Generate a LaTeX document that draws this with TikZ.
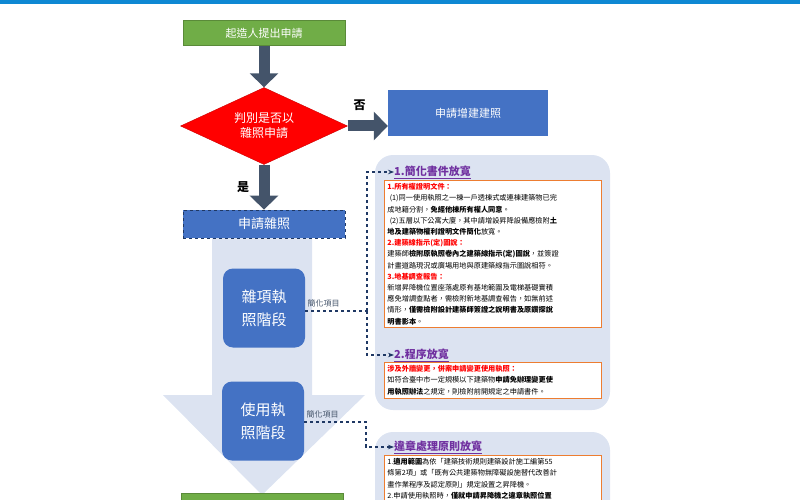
\documentclass[tikz,border=0pt]{standalone}
\usepackage{fontspec}
\setmainfont{Noto Sans CJK TC}
\usepackage{xcolor}
\usetikzlibrary{positioning,shapes.geometric,arrows.meta,shapes.arrows}
\definecolor{flowBlue}{HTML}{4472C4}
\definecolor{panelBlue}{HTML}{DCE3F1}
\definecolor{darkArrow}{HTML}{44546A}
\definecolor{startGreen}{HTML}{70AD47}
\definecolor{noteOrange}{HTML}{ED7D31}
\definecolor{titlePurple}{HTML}{7030A0}
\definecolor{navyDash}{HTML}{1F3864}
\tikzset{%
  stepGreen/.style={rectangle, draw=startGreen!80!black, fill=startGreen, text=white, minimum width=162pt, minimum height=25pt, font=\fontsize{11}{13}\selectfont},
  decision/.style={diamond, fill=red, draw=red!80!black, text=white, minimum width=167pt, minimum height=77pt, aspect=2.2, inner sep=0pt, align=center, font=\fontsize{12}{15}\selectfont},
  blueBox/.style={rectangle, fill=flowBlue, text=white, minimum width=160pt, minimum height=46pt, font=\fontsize{11}{13}\selectfont},
  dashBox/.style={rectangle, fill=flowBlue, draw=navyDash, dashed, thick, text=white, minimum width=162pt, minimum height=28pt, font=\fontsize{13}{15}\selectfont},
  stageBox/.style={rectangle, rounded corners=10pt, fill=flowBlue, text=white, minimum width=82pt, minimum height=79pt, align=center, font=\fontsize{15}{23}\selectfont},
  flowArrow/.style={line width=11pt, darkArrow, -{Triangle[length=14pt,width=28pt]}},
  linkDash/.style={navyDash, dashed, line width=1.2pt, -{Stealth[length=6pt]}},
  panel/.style={rectangle, rounded corners=18pt, fill=panelBlue},
  noteBox/.style={rectangle, draw=noteOrange, thick, fill=white, text width=211pt, align=left, inner sep=3pt, font=\fontsize{7.2}{11.2}\selectfont},
  panelTitle/.style={text=titlePurple, font=\bfseries\fontsize{11}{12}\selectfont, anchor=west, inner sep=0pt},
  smallLabel/.style={font=\fontsize{8}{9}\selectfont, text=darkArrow},
  answer/.style={black, font=\bfseries\fontsize{12}{14}\selectfont},
}
\newcommand{\redtxt}[1]{\textcolor{red}{\textbf{#1}}}
\begin{document}
\begin{tikzpicture}[x=1pt,y=-1pt]
\useasboundingbox (0,0) rectangle (800,500);
\clip (0,0) rectangle (800,500);
\fill[cyan!70!blue] (0,0) rectangle (800,4);
% big background arrow
\fill[panelBlue] (212,238) -- (312,238) -- (312,395) -- (365,395) -- (262,495) -- (163,395) -- (212,395) -- cycle;
% panels
\fill[panel] (375,155) rectangle (610,410);
\fill[panel] (375,432) rectangle (610,540);
%Nodes
\node[stepGreen] (start) at (264,33) {起造人提出申請};
\node[decision] (judge) at (264,126) {判別是否以\\雜照申請};
\node[blueBox] (addPermit) at (468,113) {申請增建建照};
\node[dashBox] (misc) at (264,224) {申請雜照};
\node[stageBox] (stageA) at (264,308) {雜項執\\照階段};
\node[stageBox] (stageB) at (263,421) {使用執\\照階段};
\node[stepGreen, anchor=north] (endBox) at (262,493) {};
\node[panelTitle] (titleA) at (394,172) {\underline{1.簡化書件放寬}};
\node[noteBox, anchor=north west] (noteA) at (384,180) {%
\redtxt{1.所有權證明文件：}\\
\ (1)同一使用執照之一棟一戶透棟式或連棟建築物已完\\
成地籍分割，\textbf{免經他棟所有權人同意}。\\
\ (2)五層以下公寓大廈，其中請增設昇降設備應檢附\textbf{土}\\
\textbf{地及建築物權利證明文件簡化}放寬。\\
\redtxt{2.建築線指示(定)圖說：}\\
建築師\textbf{檢附原執照卷內之建築線指示(定)圖說}，並簽證\\
計畫道路現況或廣場用地與原建築線指示圖說相符。\\
\redtxt{3.地基調查報告：}\\
新增昇降機位置座落處原有基地範圍及電梯基礎實積\\
應免增調查點者，需檢附新地基調查報告，如無前述\\
情形，\textbf{僅需檢附設計建築師簽證之說明書及原鑽探說}\\
\textbf{明書影本}。};
\node[panelTitle] (titleB) at (394,355) {\underline{2.程序放寬}};
\node[noteBox, anchor=north west] (noteB) at (384,362) {%
\redtxt{涉及外牆變更，併案申請變更使用執照：}\\
如符合臺中市一定規模以下建築物\textbf{申請免辦理變更使}\\
\textbf{用執照辦法}之規定，則檢附前開規定之申請書件。};
\node[panelTitle] (titleC) at (394,447) {\underline{違章處理原則放寬}};
\node[noteBox, anchor=north west] (noteC) at (384,455) {%
1.\textbf{適用範圍}為依「建築技術規則建築設計施工編第55\\
條第2項」或「既有公共建築物無障礙設施替代改善計\\
畫作業程序及認定原則」規定設置之昇降機。\\
2.申請使用執照時，\textbf{僅就申請昇降機之違章執照位置}\\
\ };
\coordinate (jointA) at (367,311);
\coordinate (jointB) at (366,422);
%Lines
\draw[flowArrow] (start) -- (judge.north);
\draw[flowArrow] (judge.east) -- node[answer, above, pos=0.3, yshift=7pt]{否} (judge.east -| addPermit.west);
\draw[flowArrow] (judge.south) -- node[answer, left, xshift=-6pt]{是} (misc);
\draw[linkDash, -] (stageA.east |- jointA) -- node[smallLabel, above, pos=0.3]{簡化項目} (jointA);
\draw[linkDash] (jointA) |- (titleA.west);
\draw[linkDash] (jointA) |- (titleB.west);
\draw[linkDash] (stageB.east |- jointB) -- node[smallLabel, above, pos=0.3]{簡化項目} (jointB) |- (titleC.west);
\end{tikzpicture}
\end{document}
